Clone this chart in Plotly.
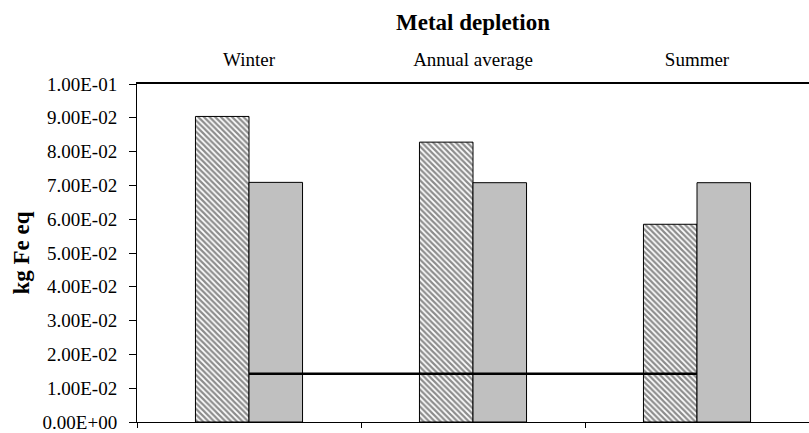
import plotly.graph_objects as go

# ---- data ----
categories = ["Winter", "Annual average", "Summer"]
hatched_values = [0.0904, 0.0828, 0.0585]
gray_values = [0.0709, 0.0708, 0.0708]
line_values = [0.0143, 0.0143, 0.0143]
y_tickvals = [0.0, 0.01, 0.02, 0.03, 0.04, 0.05, 0.06, 0.07, 0.08, 0.09, 0.10]
y_ticktext = ["0.00E+00", "1.00E-02", "2.00E-02", "3.00E-02", "4.00E-02", "5.00E-02",
              "6.00E-02", "7.00E-02", "8.00E-02", "9.00E-02", "1.00E-01"]

FONT = "Liberation Serif"

fig = go.Figure()
fig.add_trace(go.Bar(
    x=categories, y=hatched_values, name="Series 1",
    marker=dict(color="white", line=dict(color="black", width=1),
                pattern=dict(shape="\\", fgcolor="#1a1a1a", bgcolor="white", size=4, solidity=0.55)),
    xaxis="x", yaxis="y",
))
fig.add_trace(go.Bar(
    x=categories, y=gray_values, name="Series 2",
    marker=dict(color="#C0C0C0", line=dict(color="black", width=1)),
    xaxis="x", yaxis="y",
))
fig.add_trace(go.Scatter(
    x=categories, y=line_values, name="Series 3", mode="lines",
    line=dict(color="black", width=2.5),
    xaxis="x2", yaxis="y",
))

fig.update_layout(
    width=809, height=433,
    margin=dict(l=137, r=0, t=84, b=9),
    paper_bgcolor="white", plot_bgcolor="white",
    showlegend=False,
    barmode="group", bargap=0.522, bargroupgap=0,
    font=dict(family=FONT, color="black", size=19),
    title=dict(text="<b>Metal depletion</b>", x=0.5, xref="paper", xanchor="center",
               y=1 - 22 / 433, yref="container", yanchor="middle",
               font=dict(family=FONT, size=23, color="black")),
    xaxis=dict(
        type="category", categoryorder="array", categoryarray=categories,
        range=[-0.5, 2.5], showgrid=False, zeroline=False,
        showline=True, linecolor="black", linewidth=1,
        tickson="boundaries", ticks="outside", ticklen=5, tickcolor="black",
        showticklabels=False,
    ),
    xaxis2=dict(
        type="category", categoryorder="array", categoryarray=categories,
        overlaying="x", side="top", anchor="y",
        range=[-0.5, 2.5], showgrid=False, zeroline=False,
        showline=True, linecolor="black", linewidth=2,
        ticks="", ticklabelstandoff=8,
        tickfont=dict(family=FONT, size=19, color="black"),
    ),
    yaxis=dict(
        range=[0, 0.1], tickvals=y_tickvals, ticktext=y_ticktext,
        showgrid=False, zeroline=False,
        showline=True, linecolor="black", linewidth=1,
        ticks="outside", ticklen=7, tickcolor="black", ticklabelstandoff=8,
        ticklabeloverflow="allow",
        tickfont=dict(family=FONT, size=19, color="black"),
        title=dict(text="<b>kg Fe eq</b>", standoff=6,
                   font=dict(family=FONT, size=23, color="black")),
    ),
)

fig.write_html(
    "out.html",
    config={"displayModeBar": False},
    post_script="document.body.style.margin='0';document.body.style.overflow='hidden';",
)
